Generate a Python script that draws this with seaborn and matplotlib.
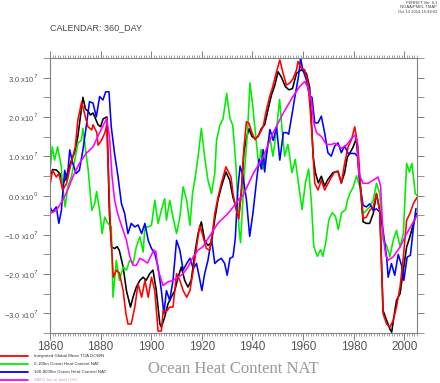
import matplotlib
matplotlib.use("Agg")
import matplotlib.pyplot as plt
from matplotlib.lines import Line2D
from matplotlib.ticker import MultipleLocator, FixedLocator
import seaborn as sns
import pandas as pd

# values in units of 1e7
red_years = [1860, 1861, 1862.5, 1863.5, 1865, 1866.5, 1868, 1870, 1871, 1872.5, 1874, 1875, 1876.5,
             1877, 1878.5, 1879, 1880.3, 1881.7, 1882.4, 1883.7, 1885, 1886.2, 1887.4, 1888.9, 1890,
             1890.8, 1892.1, 1893.5, 1894.8, 1896.2, 1897.5, 1898.8, 1900.1, 1901.4, 1902.7, 1904,
             1904.7, 1906, 1907.3, 1908.6, 1910, 1911.3, 1912.6, 1914, 1915.3, 1916.6, 1917.9, 1919.2,
             1920.5, 1921.8, 1923.1, 1923.8, 1925.1, 1926.4, 1927.7, 1929.5, 1931.5, 1932.3, 1933.5,
             1934.6, 1935.6, 1936.6, 1937.6, 1938.6, 1939.8, 1941, 1942.9, 1944.2, 1945.5, 1946.8,
             1948, 1949.5, 1950.8, 1952.1, 1953.4, 1954.7, 1956, 1957.4, 1958, 1959.3, 1960.6, 1962,
             1963.3, 1964.6, 1965.9, 1967.2, 1968.5, 1969.9, 1971.2, 1972.5, 1973.8, 1975.1, 1976.4,
             1977.8, 1979.1, 1980.4, 1981.7, 1982.5, 1983.7, 1985, 1986.3, 1987.7, 1989, 1990.3,
             1991.6, 1993, 1994.3, 1995.6, 1996.9, 1998.3, 1999.6, 2000.9, 2002.2, 2003.6, 2005]
red_vals = [0.26, 0.64, 0.47, 0.56, 0.14, 0.3, 0.73, 1.24, 1.92, 2.38, 2.0, 1.75, 1.67,
            1.8, 1.6, 1.28, 1.4, 1.6, 1.8, -0.55, -2.08, -1.9, -1.97, -2.42, -3.01,
            -3.27, -3.27, -2.84, -2.25, -2.59, -2.16, -2.59, -2.08, -2.42, -3.45, -3.45,
            -2.93, -2.95, -2.84, -2.84, -1.99, -2.16, -2.42, -2.59, -2.42, -1.9, -1.31, -0.76,
            -1.05, -1.35, -1.39, -1.14, -0.46, -0.04, 0.31, 0.73, 0.47, 0.05, -0.35,
            -0.6, 0.1, 1.2, 1.88, 1.84, 1.6, 1.42, 1.58, 1.75, 2.18, 2.52,
            2.77, 3.15, 3.45, 3.11, 2.81, 2.86, 2.97, 3.2, 3.41, 3.24, 3.2, 2.86,
            1.75, 0.31, 0.14, 0.39, 0.14, 0.31, 0.47, 0.6, 0.6, 0.31, 0.82,
            1.24, 1.42, 1.75, 1.24, 0.4, -0.59, -0.55, -0.38, -0.29, 0.05, -0.42,
            -3.01, -3.27, -3.35, -3.18, -2.84, -2.33, -1.57, -0.63, -0.46, -0.2, -0.05]

black_years = [1860, 1861, 1862.5, 1864, 1865, 1866, 1867, 1868.5, 1870, 1871, 1872, 1873, 1874,
               1875, 1876, 1877, 1878, 1879, 1880, 1881, 1882.5, 1883.5, 1884.3, 1885.6, 1886.5,
               1887.4, 1888.9, 1890.2, 1891.8, 1892.8, 1894.1, 1895.5, 1896.8, 1898, 1899.4, 1900.7,
               1902, 1903.4, 1904, 1905.3, 1906.6, 1907.9, 1909.3, 1910.6, 1911.9, 1913.2, 1914.5,
               1915.8, 1917.2, 1918.5, 1919.8, 1921.1, 1922.4, 1923.8, 1925.1, 1926.4, 1927.7,
               1929.5, 1931, 1932.3, 1933.5, 1934.6, 1935.6, 1936.6, 1937.6, 1938.6, 1939.8, 1941,
               1942.2, 1943.5, 1944.8, 1946.2, 1947.5, 1948.8, 1950.1, 1951.5, 1953, 1954.4, 1955.8,
               1957.4, 1959.3, 1961.3, 1962.6, 1964, 1964.8, 1966, 1967.2, 1968.5, 1969.8, 1971.8,
               1973.8, 1975.1, 1976.4, 1977.5, 1978.4, 1979.8, 1981, 1982, 1983.7, 1985, 1986.3,
               1987.7, 1989, 1990.3, 1991.6, 1993, 1994.3, 1995, 1995.6, 1996.9, 1998.3, 1999.6,
               2000.9, 2002.2, 2003.6, 2005]
black_vals = [0.44, 0.66, 0.65, 0.55, 0.3, 0.4, 0.6, 0.9, 1.15, 1.5, 2.0, 2.5, 2.2,
              2.15, 2.05, 2.1, 1.95, 1.8, 1.75, 1.95, 2.0, -0.5, -1.31, -1.35, -1.3,
              -1.4, -1.82, -2.42, -2.84, -2.59, -2.33, -2.16, -2.08, -2.16, -1.99, -1.9,
              -2.42, -3.27, -3.35, -3.1, -2.76, -2.59, -2.42, -2.08, -1.82, -2.16, -2.33,
              -2.16, -1.48, -0.97, -0.67, -1.14, -1.27, -1.2, -0.6, -0.1, 0.22,
              0.6, 0.39, -0.05, -0.3, -0.5, 0.1, 1.1, 1.45, 1.7, 1.5, 1.45,
              1.5, 1.7, 1.8, 2.2, 2.56, 2.8, 3.15, 3.0, 2.77, 2.69, 2.72,
              3.11, 3.2, 3.11, 2.75, 0.98, 0.6, 0.32, 0.49, 0.24, 0.41, 0.58,
              0.62, 0.32, 0.58, 0.98, 1.07, 1.24, 1.45, 0.7, -0.67, -0.71, -0.71,
              -0.46, 0.05, -0.38, -2.93, -3.18, -3.4, -3.48, -3.2, -2.67, -2.5, -1.9,
              -1.31, -1.05, -0.71, -0.45]

blue_years = [1860, 1861, 1862.5, 1863.5, 1864.5, 1865.8, 1866.8, 1867.8, 1869, 1870.3, 1871.6,
              1873, 1874.3, 1875.6, 1877, 1878.3, 1879.6, 1880.9, 1882, 1883.3, 1884.2, 1885.5,
              1886.9, 1888.2, 1889.5, 1890.8, 1892.1, 1893.5, 1894.8, 1896.2, 1897.5, 1898.8,
              1900.1, 1901.4, 1902.7, 1904, 1905, 1906, 1907.3, 1908.6, 1910, 1911.3, 1912.6,
              1914, 1915.3, 1916.6, 1917.9, 1919, 1920, 1921.1, 1922.4, 1923.8, 1925.1, 1926.4,
              1927.7, 1929, 1930, 1931.1, 1932.3, 1933.2, 1934.2, 1935.1, 1936.2, 1937.6, 1938.9,
              1940.2, 1941.5, 1942.6, 1943.5, 1944.2, 1944.8, 1945.5, 1946.9, 1948.2, 1949.5,
              1950.8, 1952.2, 1953.5, 1954.3, 1955.5, 1956.8, 1958.2, 1959, 1959.9, 1961.2,
              1962.5, 1963.5, 1964.6, 1965.9, 1967.2, 1968.5, 1969.8, 1971.1, 1972.5, 1973.8,
              1975.1, 1976.4, 1977.8, 1979.1, 1980.4, 1981.5, 1982.4, 1983.7, 1985, 1986.3,
              1987.7, 1989, 1990.3, 1991.6, 1993, 1993.6, 1994.9, 1996.2, 1997.6, 1998.9, 1999.8,
              2001.1, 2002.4, 2003.6, 2004.6]
blue_vals = [-0.29, -0.42, -0.29, -0.71, -0.38, 0.64, 0.39, 1.16, 0.82, 0.56, 0.64,
             1.16, 1.75, 2.39, 2.35, 2.0, 2.52, 2.43, 2.64, 2.64, 1.75, 1.07,
             0.47, -0.2, -0.46, -0.97, -0.71, -0.8, -0.75, -0.97, -0.71, -1.14,
             -1.35, -1.48, -1.82, -2.42, -3.01, -2.42, -2.67, -2.16, -1.14, -1.39, -1.9,
             -1.73, -1.6, -1.86, -1.73, -2.08, -2.42, -1.99, -1.65, -1.1, -1.73, -1.65,
             -1.6, -1.73, -2.03, -1.6, -1.56, -1.1, 0.15, 0.75, 0.51, -0.1, -1.04,
             -0.44, 0.32, 0.92, 0.67, 1.17, 0.6, 1.0, 1.68, 1.4, 1.75,
             0.9, 1.6, 1.6, 1.56, 2.02, 2.53, 3.04, 3.5, 3.2, 2.96,
             2.53, 2.5, 1.85, 1.85, 2.02, 1.6, 1.09, 1.0, 1.26, 1.34,
             1.09, 1.26, 1.07, 1.07, 1.07, 1.0, 0.31, -0.25, -0.29, -0.21,
             -0.38, -0.34, -0.42, -0.89, -1.57, -2.08, -1.73, -2.03, -1.5, -1.78, -2.16,
             -1.57, -1.52, -0.8, -0.33]

green_years = [1860, 1860.9, 1861.8, 1863, 1864.5, 1865, 1866, 1867, 1868.4, 1869.8, 1871, 1872.4,
               1873, 1873.8, 1875.1, 1876.5, 1877.7, 1878.4, 1879.6, 1880.6, 1881.6, 1882.9,
               1884.2, 1884.9, 1886.2, 1887.4, 1888.9, 1890.2, 1891.5, 1892.8, 1894.1, 1895.5,
               1896.8, 1897.5, 1898.8, 1900.1, 1901.4, 1902.7, 1904, 1905.3, 1906, 1907.3, 1908.6,
               1910, 1911.3, 1912.6, 1914, 1915.3, 1916.3, 1917.2, 1918.5, 1919.8, 1921.1, 1922.4,
               1923.8, 1925.1, 1925.8, 1927.1, 1928.4, 1929.8, 1931.1, 1932.2, 1933.5, 1934.6,
               1935.3, 1936.7, 1938.1, 1939, 1940.1, 1941.4, 1942.5, 1943.4, 1944.1, 1945.4,
               1946.8, 1948.1, 1949.4, 1950.7, 1951.8, 1952.7, 1954, 1955.6, 1956.9, 1958.3,
               1959.6, 1960.9, 1962.2, 1963.3, 1964.2, 1965.6, 1966.9, 1967.8, 1968.9, 1970.2,
               1971.5, 1972.8, 1973.9, 1975.2, 1976.8, 1977.5, 1978.5, 1979.8, 1981.1, 1982.4,
               1983.2, 1983.7, 1985, 1986.3, 1987.7, 1989, 1990.3, 1991.6, 1993, 1994.3, 1995.6,
               1996.9, 1998.3, 1999.6, 2000.9, 2002, 2003, 2004.3, 2005]
green_vals = [0.64, 1.24, 0.9, 1.24, 0.73, 0.14, -0.29, 0.22, 0.47, 0.9, 1.33, 1.41,
              1.71, 1.3, 0.64, -0.38, -0.2, 0.1, -0.38, -0.97, -0.55, -0.71,
              -0.8, -2.59, -1.65, -2.16, -1.82, -1.9, -1.65, -1.73, -1.31, -1.05,
              -1.44, -0.8, -0.8, -0.76, -0.12, -0.71, -0.38, -0.08, -0.63, -0.12, -0.55,
              -0.97, -0.55, 0.22, -0.12, -0.76, 0.05, 0.39, 0.98, 1.71, 0.98, 0.39,
              0.05, 0.56, 1.41, 1.79, 1.96, 2.6, 1.96, 1.79, 0.75, -0.8,
              -1.2, 0.49, 1.68, 2.87, 2.28, 1.43, 0.75, 1.17, 0.67, 1.07,
              1.5, 1.0, 1.6, 2.45, 1.6, 1.0, 1.3, 0.58, 0.92, 0.24,
              -0.36, 0.32, 0.67, -0.19, -1.29, -1.55, -1.38, -1.55, -1.21, -0.61,
              -0.44, -0.53, -0.87, -0.44, -0.36, -0.12, 0.05, 0.22, 0.5, 0.22,
              -0.12, -0.46, -0.38, -0.29, -0.12, 0.31, 0.05, -1.14, -1.27, -1.56, -1.14,
              -0.89, -1.31, -0.97, 0.82, 0.6, 0.82, 0.05, 0.0]

magenta_years = [1860, 1862.5, 1865, 1867, 1869, 1871.6, 1874.3, 1877, 1879.6, 1882.4, 1883.5,
                 1884.5, 1885.5, 1886.5, 1887.4, 1888.9, 1890.2, 1891.5, 1892.8, 1894.1, 1895.5,
                 1897, 1898.5, 1899.8, 1901, 1901.8, 1902.7, 1904.7, 1906.6, 1908.6, 1910.6,
                 1912.6, 1914.5, 1916.6, 1918.5, 1920.5, 1922.4, 1924.4, 1926.4, 1928.4, 1930.4,
                 1932.3, 1934.8, 1936.3, 1940.3, 1944.2, 1948, 1952.1, 1956, 1958.6, 1960.6, 1962,
                 1963.3, 1964.2, 1965.3, 1967.2, 1969.2, 1971.2, 1972.5, 1973.8, 1975.1, 1977.1,
                 1979.1, 1980.6, 1981.4, 1982, 1983.7, 1985.7, 1987.7, 1989.6, 1990.6, 1991.6,
                 1992.6, 1993.6, 1995.6, 1998.3, 2000.9, 2004.3, 2005]
magenta_vals = [-0.46, -0.38, -0.12, 0.14, 0.47, 0.82, 1.07, 1.24, 1.6, 1.96, 1.5,
                0.5, -0.1, -0.4, -0.6, -0.89, -1.14, -1.55, -1.78, -1.78, -1.6,
                -1.65, -1.72, -1.55, -1.39, -1.42, -1.9, -2.29, -2.2, -2.16, -2.08,
                -1.99, -1.82, -1.56, -1.39, -1.3, -1.1, -0.9, -0.7, -0.58, -0.45,
                -0.3, -0.08, 0.0, 0.56, 0.98, 1.58, 2.09, 2.52, 2.77, 2.9, 2.75,
                2.4, 1.85, 1.6, 1.5, 1.3, 1.3, 1.33, 1.28, 1.2, 1.28,
                1.45, 1.54, 1.3, 0.56, 0.31, 0.31, 0.39, 0.47, 0.25, -1.0,
                -1.5, -1.65, -1.56, -1.31, -0.97, -0.59, -0.5]

legend_labels = ["Integrated Global Mean TOA DOWN",
                 "0-100m Ocean Heat Content NAT",
                 "100-8000m Ocean Heat Content NAT",
                 "SATO fits to total OHC"]
x_ticks = [1860, 1880, 1900, 1920, 1940, 1960, 1980, 2000]
y_ticks = [-3, -2, -1, 0, 1, 2, 3]

sns.set_style("white")
plt.rcParams["font.family"] = ["Liberation Sans", "DejaVu Sans"]

fig = plt.figure(figsize=(4.4, 3.83), dpi=100)
ax = fig.add_axes([50 / 440, 50 / 383, 367 / 440, 275 / 383])

series = [
    (black_years, black_vals, "black"),
    (green_years, green_vals, "#00ee00"),
    (blue_years, blue_vals, "#0000ff"),
    (red_years, red_vals, "#ff0000"),
    (magenta_years, magenta_vals, "#ff00ff"),
]
for yrs, vals, col in series:
    df = pd.DataFrame({"year": yrs, "value": vals})
    sns.lineplot(data=df, x="year", y="value", color=col, linewidth=1.15,
                 estimator=None, sort=False, legend=False, ax=ax)

ax.set_xlim(1860, 2005)
ax.set_ylim(-3.5, 3.5)
ax.set_xlabel("")
ax.set_ylabel("")

frame_col = "#808080"
for sp in ax.spines.values():
    sp.set_color(frame_col)
    sp.set_linewidth(0.8)

ax.xaxis.set_major_locator(FixedLocator(x_ticks))
ax.xaxis.set_minor_locator(MultipleLocator(1))
ax.set_xticklabels([str(t) for t in x_ticks])
ax.yaxis.set_major_locator(FixedLocator(y_ticks))
ax.yaxis.set_minor_locator(MultipleLocator(0.5))


def ylab(v):
    if v == 0:
        return r"0.0 x10$^{0}$"
    s = "%.1f" % abs(v)
    sign = "\u2212" if v < 0 else ""
    return sign + s + r" x10$^{7}$"


ax.set_yticklabels([ylab(v) for v in y_ticks])
ax.tick_params(axis="x", which="both", direction="out", top=True, bottom=True,
               colors=frame_col, labelcolor="#555555", labelsize=8.5, pad=1)
ax.tick_params(axis="x", which="major", length=5, width=0.7)
ax.tick_params(axis="x", which="minor", length=2.5, width=0.5)
ax.tick_params(axis="y", which="both", direction="out", left=True, right=True,
               colors=frame_col, labelcolor="#555555", labelsize=5.5)
ax.tick_params(axis="y", which="major", length=5, width=0.7)
ax.tick_params(axis="y", which="minor", length=5, width=0.6)

# header texts
fig.text(50 / 440, 1 - 28 / 383, "CALENDAR: 360_DAY", fontsize=6.5, color="#444444",
         va="center", ha="left")
fig.text(437 / 440, 1 - 1 / 383, "FERRET Ver. 6.1\nNOAA/PMEL TMAP\nOct 13 2014 16:39:02",
         fontsize=3, color="#444444", ha="right", va="top", linespacing=1.1)

# legend entries drawn Ferret-style below the plot
leg_cols = ["#ff0000", "#00ee00", "#0000ff", "#ff00ff"]
leg_txt_cols = ["#333333", "#333333", "#333333", "#cc99cc"]
for i, (lab, col) in enumerate(zip(legend_labels, leg_cols)):
    yy = 1 - (356 + 8 * i) / 383
    fig.add_artist(Line2D([0, 28 / 440], [yy, yy], color=col, linewidth=1.3,
                          transform=fig.transFigure))
    fig.text(34 / 440, yy, lab, fontsize=3.2, color=leg_txt_cols[i], va="center", ha="left")

fig.text(233 / 440, 1 - 369 / 383, "Ocean Heat Content NAT", fontsize=12,
         family=["Liberation Serif", "DejaVu Serif"], color="#999999", ha="center", va="center")

fig.savefig("out.png", dpi=100)
